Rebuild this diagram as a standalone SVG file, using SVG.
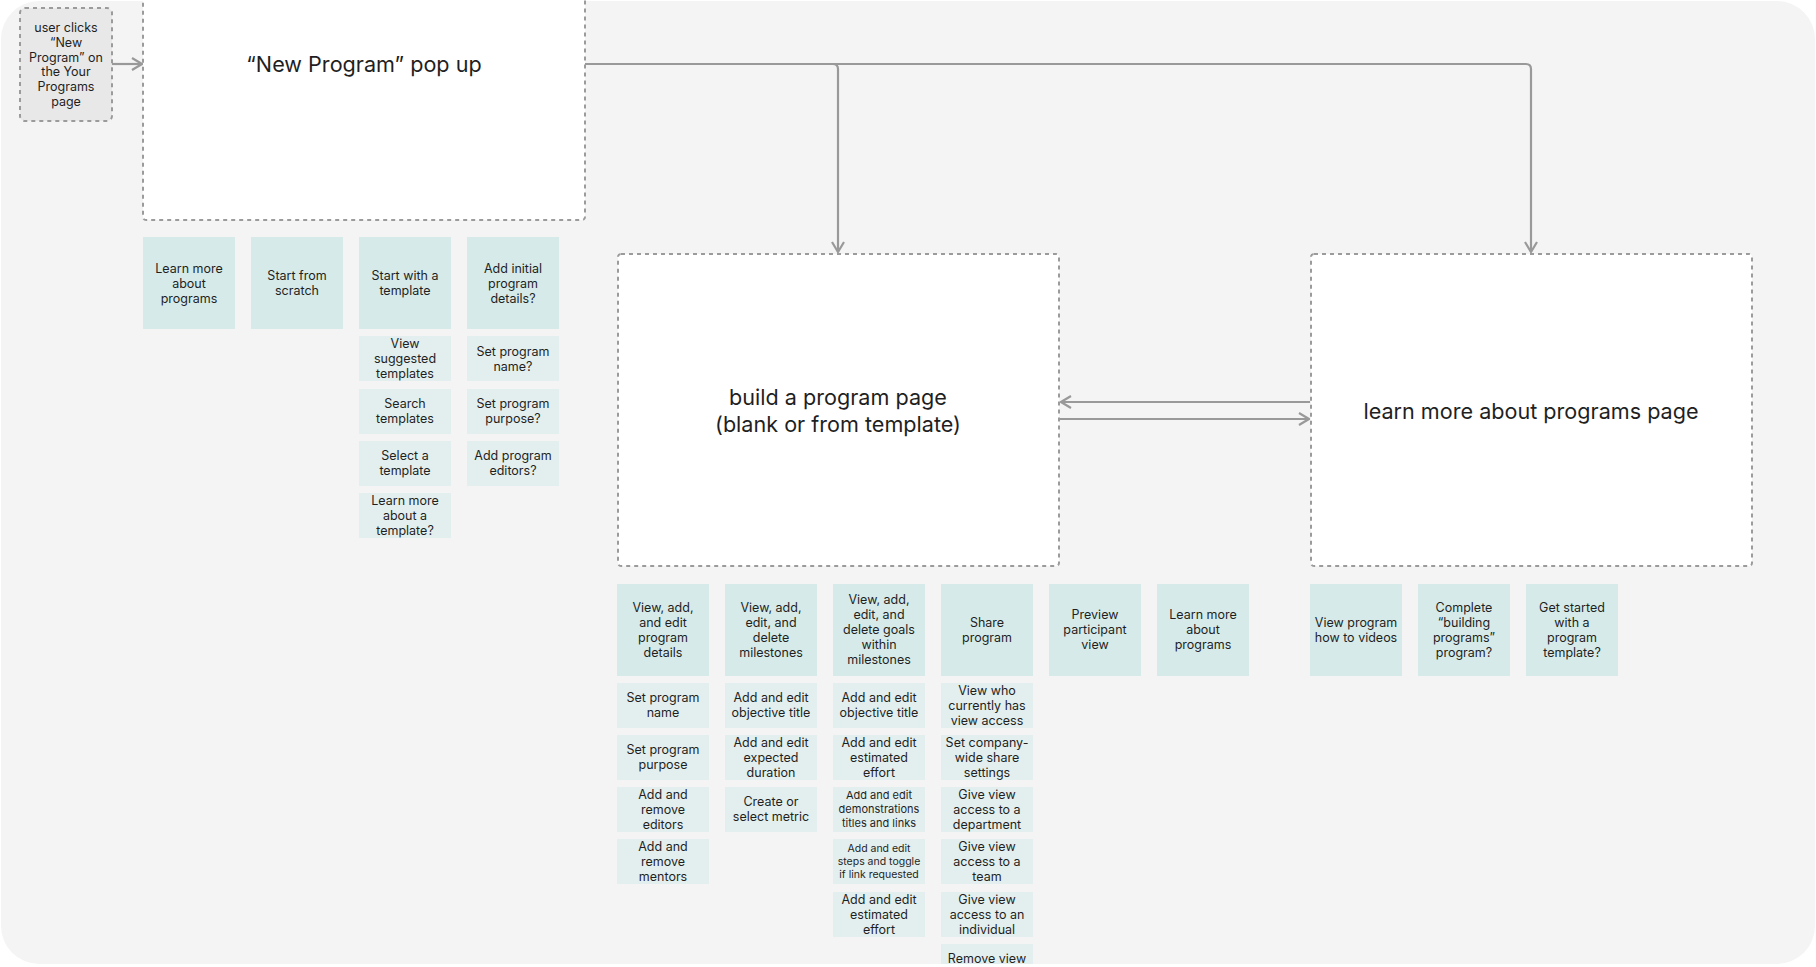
<svg xmlns="http://www.w3.org/2000/svg" width="1816" height="967" viewBox="0 0 1816 967">
<defs>
<style>
text{font-family:Inter,"Liberation Sans",Arial,sans-serif;fill:#1f1f1f;text-anchor:middle}
.t{font-size:12.5px}
.s1{font-size:11px}
.s2{font-size:10.5px}
.big{font-size:21.6px}
.h{fill:#d6ebe9}
.sub{fill:#e3efee}
.box{fill:#ffffff;stroke:#9b9b9b;stroke-width:2;stroke-dasharray:4 4}
.con{fill:none;stroke:#999999;stroke-width:2.2}
</style>
<marker id="arr" markerUnits="userSpaceOnUse" markerWidth="12" markerHeight="14" viewBox="0 0 12 14" refX="11" refY="7" orient="auto">
<path d="M1,1 L11,7 L1,13" fill="none" stroke="#999999" stroke-width="2.2"/>
</marker>
<clipPath id="bgclip"><rect x="1" y="1" width="1814" height="963" rx="38"/></clipPath>
</defs>
<rect width="1816" height="967" fill="#ffffff"/>
<rect id="background" x="1" y="1" width="1814" height="963" rx="38" fill="#f4f4f4"/>

<g id="connectors">
<path class="con" d="M112,64 H142" marker-end="url(#arr)"/>
<path class="con" d="M585,64 H1526 Q1531,64 1531,69 V252" marker-end="url(#arr)"/>
<path class="con" d="M833,64 Q838,64 838,69 V252" marker-end="url(#arr)"/>
<path class="con" d="M1310,402 H1061" marker-end="url(#arr)"/>
<path class="con" d="M1060,419 H1309" marker-end="url(#arr)"/>
</g>

<g id="user-clicks">
<rect x="20" y="8" width="92" height="113" rx="5" fill="#e8e8e8" stroke="#9b9b9b" stroke-width="2" stroke-dasharray="4 4"/>
<text class="t" x="66"><tspan x="66" y="32">user clicks</tspan><tspan x="66" y="47">“New</tspan><tspan x="66" y="62">Program” on</tspan><tspan x="66" y="76">the Your</tspan><tspan x="66" y="91">Programs</tspan><tspan x="66" y="106">page</tspan></text>
</g>

<g id="new-program-popup">
<rect class="box" x="143" y="-10" width="442" height="230" rx="3"/>
<text class="big" x="364" y="72">“New Program” pop up</text>
</g>

<g id="build-program-page">
<rect class="box" x="618" y="254" width="441" height="312" rx="3"/>
<text class="big" x="838"><tspan x="838" y="405">build a program page</tspan><tspan x="838" y="432">(blank or from template)</tspan></text>
</g>

<g id="learn-programs-page">
<rect class="box" x="1311" y="254" width="441" height="312" rx="3"/>
<text class="big" x="1531" y="419">learn more about programs page</text>
</g>

<!-- popup options -->
<g id="card-learn-more-about-programs">
<rect class="h" x="143" y="237" width="92" height="92"/>
<text class="t"><tspan x="189" y="273">Learn more</tspan><tspan x="189" y="288">about</tspan><tspan x="189" y="303">programs</tspan></text>
</g>
<g id="card-start-from-scratch">
<rect class="h" x="251" y="237" width="92" height="92"/>
<text class="t"><tspan x="297" y="280">Start from</tspan><tspan x="297" y="295">scratch</tspan></text>
</g>
<g id="card-start-with-template">
<rect class="h" x="359" y="237" width="92" height="92"/>
<text class="t"><tspan x="405" y="280">Start with a</tspan><tspan x="405" y="295">template</tspan></text>
</g>
<g id="card-add-initial-details">
<rect class="h" x="467" y="237" width="92" height="92"/>
<text class="t"><tspan x="513" y="273">Add initial</tspan><tspan x="513" y="288">program</tspan><tspan x="513" y="303">details?</tspan></text>
</g>
<g id="card-view-suggested">
<rect class="sub" x="359" y="336" width="92" height="45"/>
<text class="t"><tspan x="405" y="348">View</tspan><tspan x="405" y="363">suggested</tspan><tspan x="405" y="378">templates</tspan></text>
</g>
<g id="card-search-templates">
<rect class="sub" x="359" y="389" width="92" height="45"/>
<text class="t"><tspan x="405" y="408">Search</tspan><tspan x="405" y="423">templates</tspan></text>
</g>
<g id="card-select-template">
<rect class="sub" x="359" y="441" width="92" height="45"/>
<text class="t"><tspan x="405" y="460">Select a</tspan><tspan x="405" y="475">template</tspan></text>
</g>
<g id="card-learn-about-template">
<rect class="sub" x="359" y="493" width="92" height="45"/>
<text class="t"><tspan x="405" y="505">Learn more</tspan><tspan x="405" y="520">about a</tspan><tspan x="405" y="535">template?</tspan></text>
</g>
<g id="card-set-name-q">
<rect class="sub" x="467" y="336" width="92" height="45"/>
<text class="t"><tspan x="513" y="356">Set program</tspan><tspan x="513" y="371">name?</tspan></text>
</g>
<g id="card-set-purpose-q">
<rect class="sub" x="467" y="389" width="92" height="45"/>
<text class="t"><tspan x="513" y="408">Set program</tspan><tspan x="513" y="423">purpose?</tspan></text>
</g>
<g id="card-add-editors-q">
<rect class="sub" x="467" y="441" width="92" height="45"/>
<text class="t"><tspan x="513" y="460">Add program</tspan><tspan x="513" y="475">editors?</tspan></text>
</g>

<!-- build page options -->
<g clip-path="url(#bgclip)">
<g id="card-program-details">
<rect class="h" x="617" y="584" width="92" height="92"/>
<text class="t"><tspan x="663" y="612">View, add,</tspan><tspan x="663" y="627">and edit</tspan><tspan x="663" y="642">program</tspan><tspan x="663" y="657">details</tspan></text>
</g>
<g id="card-milestones">
<rect class="h" x="725" y="584" width="92" height="92"/>
<text class="t"><tspan x="771" y="612">View, add,</tspan><tspan x="771" y="627">edit, and</tspan><tspan x="771" y="642">delete</tspan><tspan x="771" y="657">milestones</tspan></text>
</g>
<g id="card-goals">
<rect class="h" x="833" y="584" width="92" height="92"/>
<text class="t"><tspan x="879" y="604">View, add,</tspan><tspan x="879" y="619">edit, and</tspan><tspan x="879" y="634">delete goals</tspan><tspan x="879" y="649">within</tspan><tspan x="879" y="664">milestones</tspan></text>
</g>
<g id="card-share">
<rect class="h" x="941" y="584" width="92" height="92"/>
<text class="t"><tspan x="987" y="627">Share</tspan><tspan x="987" y="642">program</tspan></text>
</g>
<g id="card-preview">
<rect class="h" x="1049" y="584" width="92" height="92"/>
<text class="t"><tspan x="1095" y="619">Preview</tspan><tspan x="1095" y="634">participant</tspan><tspan x="1095" y="649">view</tspan></text>
</g>
<g id="card-learn-more-2">
<rect class="h" x="1157" y="584" width="92" height="92"/>
<text class="t"><tspan x="1203" y="619">Learn more</tspan><tspan x="1203" y="634">about</tspan><tspan x="1203" y="649">programs</tspan></text>
</g>

<g id="card-set-name">
<rect class="sub" x="617" y="683" width="92" height="45"/>
<text class="t"><tspan x="663" y="702">Set program</tspan><tspan x="663" y="717">name</tspan></text>
</g>
<g id="card-set-purpose">
<rect class="sub" x="617" y="735" width="92" height="45"/>
<text class="t"><tspan x="663" y="754">Set program</tspan><tspan x="663" y="769">purpose</tspan></text>
</g>
<g id="card-editors">
<rect class="sub" x="617" y="787" width="92" height="45"/>
<text class="t"><tspan x="663" y="799">Add and</tspan><tspan x="663" y="814">remove</tspan><tspan x="663" y="829">editors</tspan></text>
</g>
<g id="card-mentors">
<rect class="sub" x="617" y="839" width="92" height="45"/>
<text class="t"><tspan x="663" y="851">Add and</tspan><tspan x="663" y="866">remove</tspan><tspan x="663" y="881">mentors</tspan></text>
</g>

<g id="card-m-objective">
<rect class="sub" x="725" y="683" width="92" height="45"/>
<text class="t"><tspan x="771" y="702">Add and edit</tspan><tspan x="771" y="717">objective title</tspan></text>
</g>
<g id="card-m-duration">
<rect class="sub" x="725" y="735" width="92" height="45"/>
<text class="t"><tspan x="771" y="747">Add and edit</tspan><tspan x="771" y="762">expected</tspan><tspan x="771" y="777">duration</tspan></text>
</g>
<g id="card-m-metric">
<rect class="sub" x="725" y="787" width="92" height="45"/>
<text class="t"><tspan x="771" y="806">Create or</tspan><tspan x="771" y="821">select metric</tspan></text>
</g>

<g id="card-g-objective">
<rect class="sub" x="833" y="683" width="92" height="45"/>
<text class="t"><tspan x="879" y="702">Add and edit</tspan><tspan x="879" y="717">objective title</tspan></text>
</g>
<g id="card-g-effort">
<rect class="sub" x="833" y="735" width="92" height="45"/>
<text class="t"><tspan x="879" y="747">Add and edit</tspan><tspan x="879" y="762">estimated</tspan><tspan x="879" y="777">effort</tspan></text>
</g>
<g id="card-g-demonstrations">
<rect class="sub" x="833" y="787" width="92" height="45"/>
<text class="s1"><tspan x="879" y="799">Add and edit</tspan><tspan x="879" y="813">demonstrations</tspan><tspan x="879" y="827">titles and links</tspan></text>
</g>
<g id="card-g-steps">
<rect class="sub" x="833" y="839" width="92" height="45"/>
<text class="s2"><tspan x="879" y="852">Add and edit</tspan><tspan x="879" y="865">steps and toggle</tspan><tspan x="879" y="878">if link requested</tspan></text>
</g>
<g id="card-g-effort-2">
<rect class="sub" x="833" y="892" width="92" height="45"/>
<text class="t"><tspan x="879" y="904">Add and edit</tspan><tspan x="879" y="919">estimated</tspan><tspan x="879" y="934">effort</tspan></text>
</g>

<g id="card-s-view-access">
<rect class="sub" x="941" y="683" width="92" height="45"/>
<text class="t"><tspan x="987" y="695">View who</tspan><tspan x="987" y="710">currently has</tspan><tspan x="987" y="725">view access</tspan></text>
</g>
<g id="card-s-company">
<rect class="sub" x="941" y="735" width="92" height="45"/>
<text class="t"><tspan x="987" y="747">Set company-</tspan><tspan x="987" y="762">wide share</tspan><tspan x="987" y="777">settings</tspan></text>
</g>
<g id="card-s-department">
<rect class="sub" x="941" y="787" width="92" height="45"/>
<text class="t"><tspan x="987" y="799">Give view</tspan><tspan x="987" y="814">access to a</tspan><tspan x="987" y="829">department</tspan></text>
</g>
<g id="card-s-team">
<rect class="sub" x="941" y="839" width="92" height="45"/>
<text class="t"><tspan x="987" y="851">Give view</tspan><tspan x="987" y="866">access to a</tspan><tspan x="987" y="881">team</tspan></text>
</g>
<g id="card-s-individual">
<rect class="sub" x="941" y="892" width="92" height="45"/>
<text class="t"><tspan x="987" y="904">Give view</tspan><tspan x="987" y="919">access to an</tspan><tspan x="987" y="934">individual</tspan></text>
</g>
<g id="card-s-remove">
<rect class="sub" x="941" y="944" width="92" height="45"/>
<text class="t"><tspan x="987" y="963">Remove view</tspan></text>
</g>
</g>

<!-- learn page options -->
<g id="card-videos">
<rect class="h" x="1310" y="584" width="92" height="92"/>
<text class="t"><tspan x="1356" y="627">View program</tspan><tspan x="1356" y="642">how to videos</tspan></text>
</g>
<g id="card-complete">
<rect class="h" x="1418" y="584" width="92" height="92"/>
<text class="t"><tspan x="1464" y="612">Complete</tspan><tspan x="1464" y="627">“building</tspan><tspan x="1464" y="642">programs”</tspan><tspan x="1464" y="657">program?</tspan></text>
</g>
<g id="card-get-started">
<rect class="h" x="1526" y="584" width="92" height="92"/>
<text class="t"><tspan x="1572" y="612">Get started</tspan><tspan x="1572" y="627">with a</tspan><tspan x="1572" y="642">program</tspan><tspan x="1572" y="657">template?</tspan></text>
</g>
</svg>
